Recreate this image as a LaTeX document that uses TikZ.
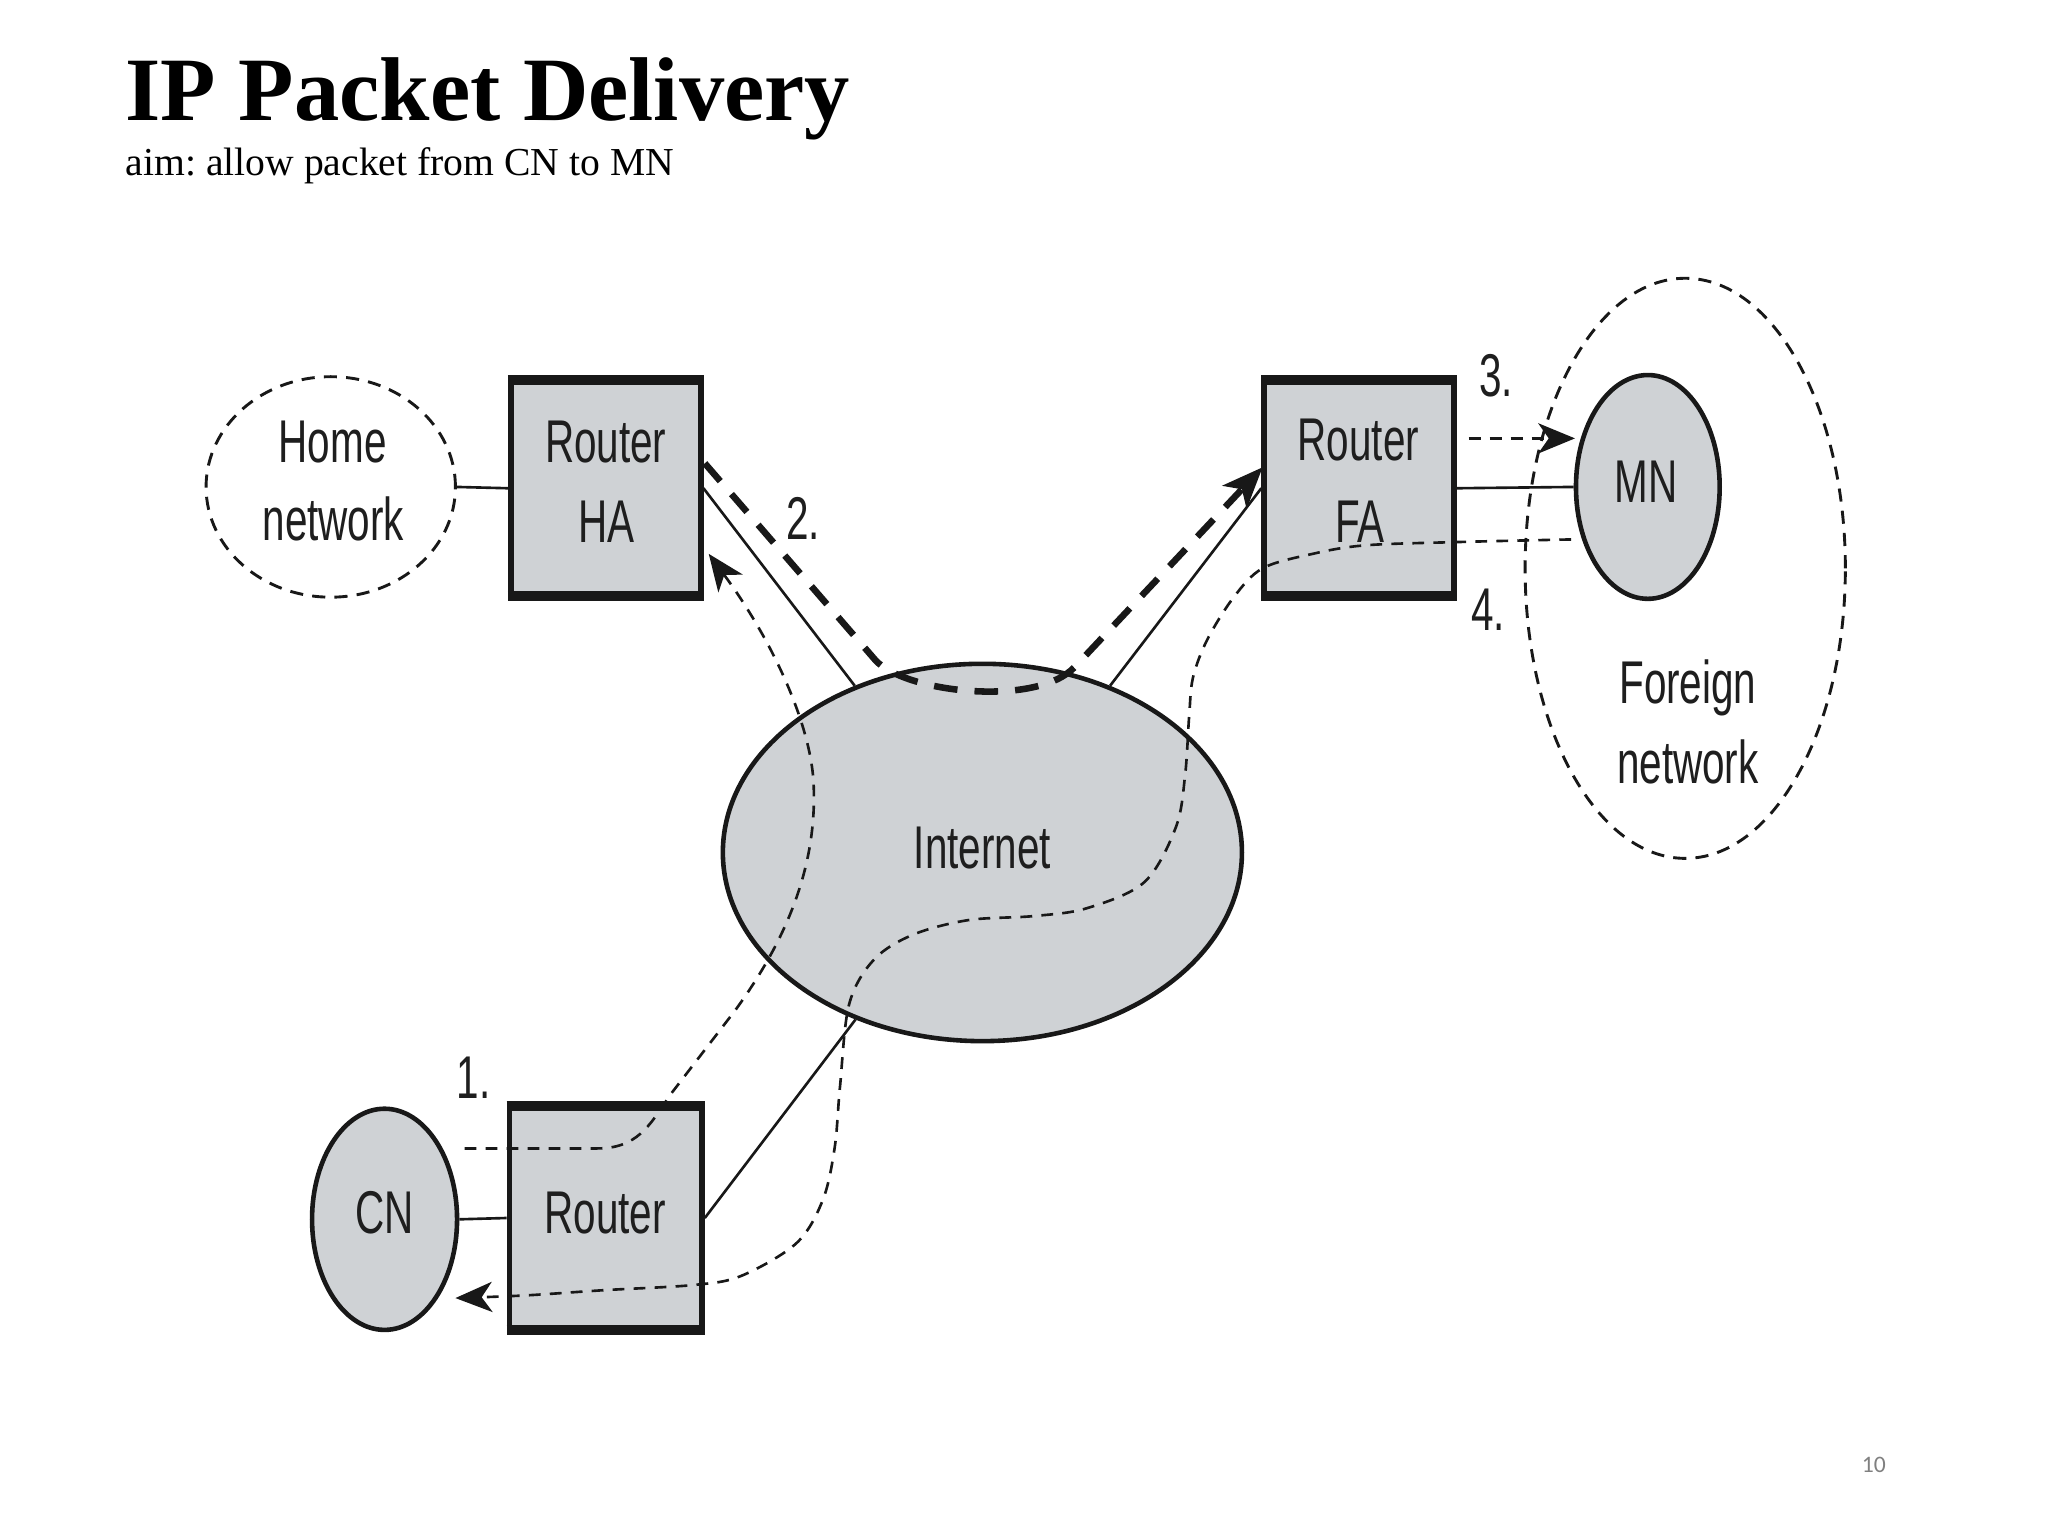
\documentclass[tikz,border=0pt]{standalone}
\usepackage{fontspec}
\setmainfont{Liberation Serif}
\newfontfamily\dfont[FakeStretch=0.67]{Liberation Sans}
\newfontfamily\pgnumfont{Carlito}
\usetikzlibrary{shapes.geometric,arrows.meta}
\definecolor{boxfill}{RGB}{207,210,213}
\definecolor{ink}{RGB}{24,24,24}
\definecolor{txt}{RGB}{30,30,30}
\frenchspacing
\begin{document}
\begin{tikzpicture}[x=1pt,y=-1pt,
  rbox/.style={rectangle, draw=ink, fill=boxfill, line width=4.4pt, minimum width=144.6pt, minimum height=167.6pt, inner sep=0pt},
  gnode/.style={ellipse, draw=ink, fill=boxfill, line width=3.5pt, inner sep=0pt},
  netcloud/.style={ellipse, draw=ink, dash pattern=on 10pt off 7pt, line width=2.2pt, inner sep=0pt},
  lbl/.style={font=\dfont\fontsize{46pt}{46pt}\selectfont, inner sep=0pt, anchor=base, text=txt},
  wire/.style={draw=ink, line width=2pt},
  thindash/.style={draw=ink, line width=2pt, dash pattern=on 9pt off 7pt},
  thickdash/.style={draw=ink, line width=5pt, dash pattern=on 18pt off 13pt},
  tip/.style={-{Stealth[length=28pt,width=23pt,inset=8pt]}},
  bigtip/.style={-{Stealth[length=31pt,width=25pt,inset=8pt]}},
  band/.style={draw=ink, line width=7.6pt}
]
\fill[white] (0,0) rectangle (1560.4,1170.3);
\useasboundingbox (0,0) rectangle (1560.4,1170.3);

% title
\node[anchor=base west, inner sep=0pt, font=\bfseries\fontsize{69pt}{69pt}\selectfont] (title) at (95.6,91.5) {IP Packet Delivery};
\node[anchor=base west, inner sep=0pt, font=\fontsize{30.2pt}{31pt}\selectfont] (subtitle) at (95.6,133.4) {aim: allow packet from CN to MN};

% network shapes
\node[netcloud, minimum width=190pt, minimum height=168pt] (home) at (252,371) {};
\node[netcloud, minimum width=244pt, minimum height=442pt] (foreign) at (1284,433) {};
\node[rbox] (ha) at (461.5,372) {};
\node[rbox] (fa) at (1035.5,372) {};
\node[rbox, minimum height=173.6pt, minimum width=146.6pt] (rt) at (461.5,928) {};
\node[gnode, minimum width=395.5pt, minimum height=287.5pt] (inet) at (748.5,649.5) {};
\node[gnode, minimum width=109.5pt, minimum height=170.5pt] (mn) at (1255.5,371) {};
\node[gnode, minimum width=110.5pt, minimum height=168.5pt] (cn) at (293,929) {};

% thicker top and bottom edges of the routers
\foreach \b in {ha,fa,rt}{
  \draw[band] ([yshift=-3.8pt]\b.north west) -- ([yshift=-3.8pt]\b.north east);
  \draw[band] ([yshift=3.8pt]\b.south west) -- ([yshift=3.8pt]\b.south east);
}

% wires
\draw[wire] (home.east) -- (ha.west);
\draw[wire] (fa.east) -- (mn.west);
\draw[wire] (cn.east) -- (rt.west);
\draw[wire] (ha.east) -- (inet);
\draw[wire] (fa.west) -- (inet);
\draw[wire] (rt.east) -- (inet);

% labels
\node[lbl] (homeA) at (253.5,352) {Home};
\node[lbl] (homeB) at (254,412) {network};
\node[lbl] (haA) at (461.5,352) {Router};
\node[lbl] (haB) at (462,413) {HA};
\node[lbl] (faA) at (1035,351) {Router};
\node[lbl] (faB) at (1036,413) {FA};
\node[lbl] (rtA) at (461,940) {Router};
\node[lbl] (cnA) at (293,940) {CN};
\node[lbl] (mnA) at (1254,383) {MN};
\node[lbl] (inetA) at (748.5,662) {Internet};
\node[lbl] (forA) at (1286,536) {Foreign};
\node[lbl] (forB) at (1286,597) {network};
\node[lbl] (s1) at (361,837) {1.};
\node[lbl] (s2) at (612,411) {2.};
\node[lbl] (s3) at (1140,302) {3.};
\node[lbl] (s4) at (1134,480) {4.};

% page number
\node[anchor=base east, inner sep=0pt, font=\pgnumfont\fontsize{18pt}{18pt}\selectfont, text=gray] (pg) at (1437,1122) {10};

% packet paths
\coordinate (p1s) at (354,875);
\coordinate (p1e) at (540,422);
\draw[thindash, tip] (p1s) -- (455,875) .. controls (485,875) and (495,858) .. (510,835) -- (560,770) .. controls (600,715) and (622,660) .. (620,600) .. controls (619,555) and (590,490) .. (p1e);

\coordinate (p2s) at (537,353);
\coordinate (p2e) at (962,356);
\draw[thickdash, bigtip] (p2s) -- (667,503) .. controls (690,528) and (790,539) .. (819,508) -- (p2e);

\coordinate (p3s) at (1119,334);
\coordinate (p3e) at (1200,334);
\draw[thindash, tip] (p3s) -- (p3e);

\coordinate (p4s) at (1197,411);
\coordinate (p4e) at (347,989);
\draw[thindash, tip] plot[smooth, tension=0.55] coordinates {(p4s) (1110,413) (1040,415.5) (1000,422) (962,433) (940,455) (920,487) (909,516) (906,546) (903,590) (896,630) (872,672) (828,692) (787,698) (738,701) (696,712) (666,731) (647,765) (640,828) (636,874) (627,914) (607,947) (565,972) (529,979) (460,983) (400,987) (p4e)};
\end{tikzpicture}
\end{document}
